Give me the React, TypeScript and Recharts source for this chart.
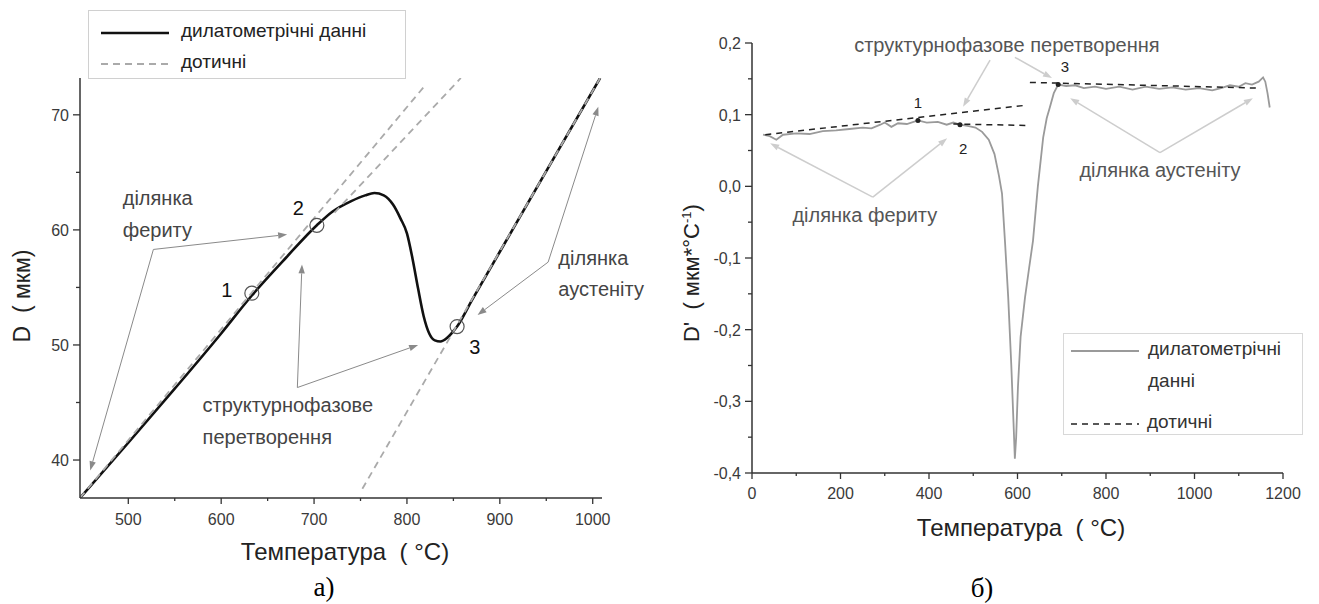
import React from "react";
import { LineChart, Line, XAxis, YAxis, ReferenceLine, ReferenceDot } from "recharts";

const FONT = "'Liberation Sans', Arial, sans-serif";
const SERIF = "'Liberation Serif', 'Times New Roman', serif";

// ---- panel a: dilatation D(T) ----
const dTemp = [448, 500, 550, 600, 633, 670, 703, 720, 740, 755, 765, 775, 785, 793, 800, 806, 812, 818, 824, 830, 836, 843, 850, 854, 870, 900, 950, 1008];
const dValue = [36.7, 41.5, 46.2, 51.0, 54.3, 57.6, 60.4, 61.6, 62.5, 63.0, 63.2, 63.0, 62.2, 61.0, 59.7, 57.5, 54.9, 52.5, 51.0, 50.4, 50.3, 50.6, 51.2, 51.6, 53.9, 58.1, 65.1, 73.2];
const ferriteTangent = [{ t: 448, v: 36.7 }, { t: 820, v: 72.6 }];
const peakTangent = [{ t: 722, v: 61.5 }, { t: 858, v: 73.2 }];
const austeniteTangent = [{ t: 752, v: 37.5 }, { t: 1008, v: 73.2 }];
const dTicksX = [500, 550, 600, 650, 700, 750, 800, 850, 900, 950, 1000];
const dTicksY = [40, 45, 50, 55, 60, 65, 70];
const dPoints = [{ n: "1", t: 633, v: 54.5, lt: 606, lv: 54.8 }, { n: "2", t: 703, v: 60.4, lt: 683, lv: 61.9 }, { n: "3", t: 854, v: 51.6, lt: 873, lv: 49.8 }];

// ---- panel б: derivative D'(T) ----
const rTemp = [25, 40, 55, 70, 100, 130, 160, 190, 220, 250, 270, 290, 300, 315, 330, 350, 375, 395, 420, 440, 455, 470, 490, 505, 520, 535, 548, 558, 565, 572, 579, 586, 591, 594, 597, 601, 607, 617, 626, 635, 646, 658, 666, 673, 682, 692, 710, 730, 750, 775, 800, 830, 860, 890, 920, 950, 980, 1010, 1040, 1060, 1080, 1100, 1115, 1130, 1145, 1155, 1160, 1165, 1170];
const rValue = [0.072, 0.070, 0.065, 0.072, 0.074, 0.073, 0.077, 0.078, 0.080, 0.082, 0.081, 0.086, 0.089, 0.083, 0.088, 0.087, 0.092, 0.089, 0.090, 0.086, 0.089, 0.086, 0.084, 0.082, 0.076, 0.065, 0.045, 0.015, -0.01, -0.08, -0.155, -0.25, -0.33, -0.38, -0.35, -0.28, -0.21, -0.155, -0.115, -0.076, 0.0, 0.068, 0.095, 0.11, 0.13, 0.142, 0.140, 0.141, 0.137, 0.139, 0.136, 0.139, 0.135, 0.139, 0.136, 0.138, 0.135, 0.137, 0.134, 0.137, 0.141, 0.139, 0.144, 0.142, 0.146, 0.152, 0.146, 0.13, 0.11];
const rFerriteTangent = [{ t: 30, v: 0.072 }, { t: 617, v: 0.113 }];
const rPointTangent = [{ t: 455, v: 0.087 }, { t: 620, v: 0.085 }];
const rAusteniteTangent = [{ t: 628, v: 0.145 }, { t: 1150, v: 0.137 }];
const rTicksX = [0, 100, 200, 300, 400, 500, 600, 700, 800, 900, 1000, 1100, 1200];
const rTicksY = [-0.4, -0.35, -0.3, -0.25, -0.2, -0.15, -0.1, -0.05, 0, 0.05, 0.1, 0.15, 0.2];
const rPoints = [{ n: "1", t: 375, v: 0.092, lt: 375, lv: 0.116 }, { n: "2", t: 470, v: 0.086, lt: 477, lv: 0.053 }, { n: "3", t: 692, v: 0.142, lt: 707, lv: 0.167 }];

const zip = (ts: number[], vs: number[]) => ts.map((t, i) => ({ t, v: vs[i] }));
const dilatation = zip(dTemp, dValue);
const derivative = zip(rTemp, rValue);

// annotation callouts, in data coordinates
const dNotes = [
  { t: 494, v: 62.8, text: "ділянка" },
  { t: 494, v: 60.0, text: "фериту" },
  { t: 580, v: 44.8, text: "структурнофазове" },
  { t: 580, v: 42.0, text: "перетворення" },
  { t: 963, v: 57.6, text: "ділянка" },
  { t: 963, v: 54.9, text: "аустеніту" },
];
const dArrows = [
  [527, 58.3, 671, 59.6],
  [527, 58.3, 459, 39.1],
  [682, 46.3, 687, 57.0],
  [682, 46.3, 812, 50.0],
  [952, 57.2, 1006, 70.7],
  [952, 57.2, 876, 52.6],
];
const rNotes = [
  { t: 576, v: 0.197, text: "структурнофазове перетворення" },
  { t: 255, v: -0.04, text: "ділянка фериту" },
  { t: 922, v: 0.023, text: "ділянка аустеніту" },
];
const rArrows = [
  [538, 0.176, 477, 0.111],
  [594, 0.18, 678, 0.151],
  [273, -0.015, 41, 0.06],
  [273, -0.015, 441, 0.067],
  [922, 0.047, 719, 0.123],
  [922, 0.047, 1132, 0.123],
];

const TS = 6;
const TM = 8;
const AXIS = "#333";

function xTick(isMajor: (v: number) => boolean, fmt: (v: number) => string, gap: number) {
  return (p: any) => {
    const v = p.payload.value;
    const major = isMajor(v);
    const y0 = p.y - TS - TM;
    return (
      <g>
        <line x1={p.x} x2={p.x} y1={y0} y2={y0 + (major ? 6 : 3)} stroke={AXIS} strokeWidth={1.3} />
        {major && (
          <text x={p.x} y={y0 + gap} textAnchor="middle" fontSize={16} fill="#3a3a3a" fontFamily={FONT}>
            {fmt(v)}
          </text>
        )}
      </g>
    );
  };
}

function yTick(isMajor: (v: number) => boolean, fmt: (v: number) => string) {
  return (p: any) => {
    const v = p.payload.value;
    const major = isMajor(v);
    const x0 = p.x + TS + TM;
    return (
      <g>
        <line x1={x0} x2={x0 - (major ? 7 : 4)} y1={p.y} y2={p.y} stroke={AXIS} strokeWidth={1.3} />
        {major && (
          <text x={x0 - 11} y={p.y + 6} textAnchor="end" fontSize={16} fill="#3a3a3a" fontFamily={FONT}>
            {fmt(v)}
          </text>
        )}
      </g>
    );
  };
}

const arrowShape = (color: string, width: number) => (p: any) => {
  const { x1, y1, x2, y2 } = p;
  const a = Math.atan2(y2 - y1, x2 - x1);
  const L = 9;
  const W = 3.2;
  const bx = x2 - L * Math.cos(a);
  const by = y2 - L * Math.sin(a);
  const nx = -Math.sin(a) * W;
  const ny = Math.cos(a) * W;
  return (
    <g>
      <line x1={x1} y1={y1} x2={bx} y2={by} stroke={color} strokeWidth={width} />
      <polygon points={`${x2},${y2} ${bx + nx},${by + ny} ${bx - nx},${by - ny}`} fill={color} />
    </g>
  );
};

const textShape = (text: string, size: number, color: string, anchor: "start" | "middle") => (p: any) => (
  <text x={p.cx} y={p.cy} dy="0.35em" textAnchor={anchor} fontSize={size} fill={color} fontFamily={FONT}>
    {text}
  </text>
);

const abs = (left: number, top: number, extra: React.CSSProperties = {}): React.CSSProperties => ({
  position: "absolute",
  left,
  top,
  transform: "translate(-50%, -50%)",
  whiteSpace: "nowrap",
  ...extra,
});

function DilatationPanel() {
  return (
    <LineChart width={660} height={604} margin={{ top: 78, right: 58, bottom: 76, left: 0 }} style={{ position: "absolute", left: 0, top: 0 }}>
      <XAxis
        type="number"
        dataKey="t"
        domain={[448, 1010]}
        allowDataOverflow
        ticks={dTicksX}
        interval={0}
        height={30}
        tickSize={TS}
        tickMargin={TM}
        tickLine={false}
        stroke={AXIS}
        strokeWidth={1.5}
        tick={xTick((v) => v % 100 === 0, (v) => String(v), 27)}
      />
      <YAxis
        type="number"
        dataKey="v"
        domain={[36.7, 73.2]}
        allowDataOverflow
        ticks={dTicksY}
        interval={0}
        width={80}
        tickSize={TS}
        tickMargin={TM}
        tickLine={false}
        stroke={AXIS}
        strokeWidth={1.5}
        tick={yTick((v) => v % 10 === 0, (v) => String(v))}
      />
      <Line data={dilatation} dataKey="v" type="monotone" stroke="#111" strokeWidth={2.6} dot={false} isAnimationActive={false} />
      <Line data={ferriteTangent} dataKey="v" type="linear" stroke="#aaa" strokeWidth={1.8} strokeDasharray="7 5" dot={false} isAnimationActive={false} />
      <Line data={peakTangent} dataKey="v" type="linear" stroke="#aaa" strokeWidth={1.8} strokeDasharray="7 5" dot={false} isAnimationActive={false} />
      <Line data={austeniteTangent} dataKey="v" type="linear" stroke="#aaa" strokeWidth={1.8} strokeDasharray="7 5" dot={false} isAnimationActive={false} />
      {dArrows.map(([a, b, c, d], i) => (
        <ReferenceLine key={`da${i}`} segment={[{ x: a, y: b }, { x: c, y: d }]} ifOverflow="visible" shape={arrowShape("#8a8a8a", 1)} />
      ))}
      {dPoints.map((p) => (
        <ReferenceDot key={`dc${p.n}`} x={p.t} y={p.v} r={7} fill="none" stroke="#555" strokeWidth={1.2} ifOverflow="visible" />
      ))}
      {dPoints.map((p) => (
        <ReferenceDot key={`dn${p.n}`} x={p.lt} y={p.lv} ifOverflow="visible" shape={textShape(p.n, 20, "#111", "middle")} />
      ))}
      {dNotes.map((n, i) => (
        <ReferenceDot key={`dt${i}`} x={n.t} y={n.v} ifOverflow="visible" shape={textShape(n.text, 20, "#444", "start")} />
      ))}
    </LineChart>
  );
}

function DerivativePanel() {
  return (
    <LineChart width={659} height={604} margin={{ top: 43, right: 36, bottom: 101, left: 0 }} style={{ position: "absolute", left: 660, top: 0 }}>
      <XAxis
        type="number"
        dataKey="t"
        domain={[0, 1200]}
        allowDataOverflow
        ticks={rTicksX}
        interval={0}
        height={30}
        tickSize={TS}
        tickMargin={TM}
        tickLine={false}
        stroke={AXIS}
        strokeWidth={1.5}
        tick={xTick((v) => v % 200 === 0, (v) => String(v), 26)}
      />
      <YAxis
        type="number"
        dataKey="v"
        domain={[-0.4, 0.2]}
        allowDataOverflow
        ticks={rTicksY}
        interval={0}
        width={92}
        tickSize={TS}
        tickMargin={TM}
        tickLine={false}
        stroke={AXIS}
        strokeWidth={1.5}
        tick={yTick((v) => Math.round(v * 100) % 10 === 0, (v) => v.toFixed(1).replace(".", ","))}
      />
      {rArrows.map(([a, b, c, d], i) => (
        <ReferenceLine key={`ra${i}`} segment={[{ x: a, y: b }, { x: c, y: d }]} ifOverflow="visible" shape={arrowShape("#cdcdcd", 1.5)} />
      ))}
      <Line data={derivative} dataKey="v" type="linear" stroke="#9a9a9a" strokeWidth={1.8} dot={false} isAnimationActive={false} />
      <Line data={rFerriteTangent} dataKey="v" type="linear" stroke="#222" strokeWidth={1.5} strokeDasharray="6 5" dot={false} isAnimationActive={false} />
      <Line data={rPointTangent} dataKey="v" type="linear" stroke="#222" strokeWidth={1.5} strokeDasharray="6 5" dot={false} isAnimationActive={false} />
      <Line data={rAusteniteTangent} dataKey="v" type="linear" stroke="#222" strokeWidth={1.5} strokeDasharray="6 5" dot={false} isAnimationActive={false} />
      {rPoints.map((p) => (
        <ReferenceDot key={`rc${p.n}`} x={p.t} y={p.v} r={2.5} fill="#222" stroke="none" ifOverflow="visible" />
      ))}
      {rPoints.map((p) => (
        <ReferenceDot key={`rn${p.n}`} x={p.lt} y={p.lv} ifOverflow="visible" shape={textShape(p.n, 15, "#222", "middle")} />
      ))}
      {rNotes.map((n, i) => (
        <ReferenceDot key={`rt${i}`} x={n.t} y={n.v} ifOverflow="visible" shape={textShape(n.text, 20, "#555", "middle")} />
      ))}
    </LineChart>
  );
}

export default function App() {
  return (
    <div style={{ position: "relative", width: 1319, height: 604, background: "#fff", fontFamily: FONT, overflow: "hidden" }}>
      <style>{"body{margin:0}"}</style>
      <DilatationPanel />
      <DerivativePanel />

      {/* legend, panel a */}
      <div style={{ position: "absolute", left: 88, top: 10, width: 318, height: 69, border: "1px solid #d0d0d0", boxSizing: "border-box" }}>
        <svg width={80} height={69} style={{ position: "absolute", left: 0, top: 0 }}>
          <line x1={12} x2={82} y1={22} y2={22} stroke="#111" strokeWidth={2.6} />
          <line x1={12} x2={82} y1={53} y2={53} stroke="#aaa" strokeWidth={1.8} strokeDasharray="7 5" />
        </svg>
        <div style={{ position: "absolute", left: 92, top: 9, fontSize: 19, color: "#222" }}>дилатометрічні данні</div>
        <div style={{ position: "absolute", left: 92, top: 40, fontSize: 19, color: "#222" }}>дотичні</div>
      </div>

      {/* legend, panel б */}
      <div style={{ position: "absolute", left: 1063, top: 333, width: 240, height: 102, border: "1px solid #d8d8d8", boxSizing: "border-box" }}>
        <svg width={80} height={100} style={{ position: "absolute", left: 0, top: 0 }}>
          <line x1={7} x2={75} y1={17} y2={17} stroke="#9a9a9a" strokeWidth={1.8} />
          <line x1={7} x2={75} y1={90} y2={90} stroke="#222" strokeWidth={1.5} strokeDasharray="6 5" />
        </svg>
        <div style={{ position: "absolute", left: 84, top: 4, fontSize: 19, color: "#333" }}>дилатометрічні</div>
        <div style={{ position: "absolute", left: 84, top: 36, fontSize: 19, color: "#333" }}>данні</div>
        <div style={{ position: "absolute", left: 83, top: 77, fontSize: 19, color: "#333" }}>дотичні</div>
      </div>

      {/* axis titles */}
      <div style={abs(22, 296, { transform: "translate(-50%, -50%) rotate(-90deg)", fontSize: 23, color: "#222" })}>D&nbsp;&nbsp;( мкм)</div>
      <div style={abs(345, 552, { fontSize: 24, color: "#222" })}>Температура&nbsp;&nbsp;( °C)</div>
      <div style={abs(692, 273, { transform: "translate(-50%, -50%) rotate(-90deg)", fontSize: 22, color: "#222" })}>
        D'&nbsp;&nbsp;( мкм*°C<sup style={{ fontSize: 13 }}>-1</sup>)
      </div>
      <div style={abs(1021, 528, { fontSize: 24, color: "#222" })}>Температура&nbsp;&nbsp;( °C)</div>

      {/* panel captions */}
      <div style={abs(324, 587, { fontSize: 27, fontFamily: SERIF, color: "#000" })}>а)</div>
      <div style={abs(982, 588, { fontSize: 27, fontFamily: SERIF, color: "#000" })}>б)</div>
    </div>
  );
}
